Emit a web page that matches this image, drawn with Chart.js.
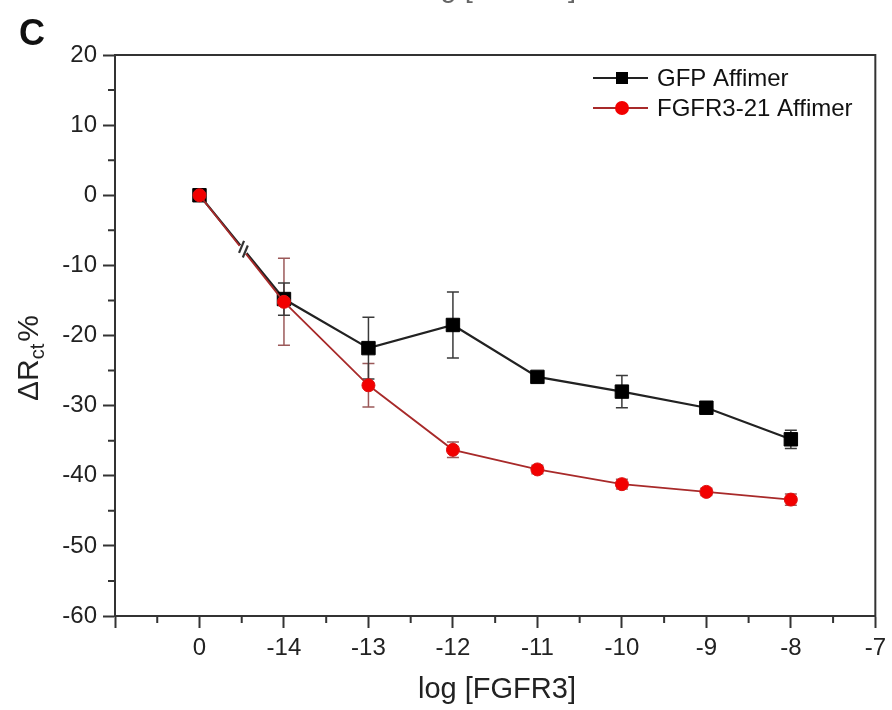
<!DOCTYPE html>
<html><head><meta charset="utf-8">
<script src="https://cdn.jsdelivr.net/npm/chart.js@4.4.0/dist/chart.umd.min.js"></script>
<style>html,body{margin:0;padding:0;background:#fff;}#wrap{width:892px;height:710px;}</style>
</head><body><div id="wrap"><canvas id="c" width="892" height="710"></canvas></div>
<script>
const tickLabels = ['', '0', '-14', '-13', '-12', '-11', '-10', '-9', '-8', '-7'];
const concentrations = ['0', '-14', '-13', '-12', '-11', '-10', '-9', '-8'];
const gfpValues = [0, -14.8, -21.8, -18.5, -25.9, -28.0, -30.3, -34.8];
const gfpErrors = [0, 2.3, 4.4, 4.7, 0.5, 2.3, 0.5, 1.3];
const fgfrValues = [0, -15.2, -27.1, -36.3, -39.1, -41.2, -42.3, -43.4];
const fgfrErrors = [0, 6.2, 3.1, 1.1, 0.6, 0.7, 0.5, 0.8];
const seriesNames = ['GFP Affimer', 'FGFR3-21 Affimer'];
const xTitle = 'log [FGFR3]';
const panelLabel = 'C';

const FONT = "'Liberation Sans', Arial, sans-serif";
const toPoints = (vals) => concentrations.map((c, i) => ({x: tickLabels.indexOf(c), y: vals[i]}));

const extras = {
  id: 'extras',
  beforeDatasetsDraw(chart) {
    const {ctx, scales: {x, y}} = chart;
    const series = [[fgfrValues, fgfrErrors, 'rgba(150,80,80,0.95)'], [gfpValues, gfpErrors, '#3a3a3a']];
    series.forEach(([vals, errs, col]) => {
      ctx.save(); ctx.strokeStyle = col; ctx.lineWidth = 1.5;
      concentrations.forEach((c, i) => {
        if (!errs[i]) return;
        const px = x.getPixelForValue(tickLabels.indexOf(c));
        const yt = y.getPixelForValue(vals[i] + errs[i]);
        const yb = y.getPixelForValue(vals[i] - errs[i]);
        ctx.beginPath();
        ctx.moveTo(px, yt); ctx.lineTo(px, yb);
        ctx.moveTo(px - 6, yt); ctx.lineTo(px + 6, yt);
        ctx.moveTo(px - 6, yb); ctx.lineTo(px + 6, yb);
        ctx.stroke();
      });
      ctx.restore();
    });
  },
  afterDatasetsDraw(chart) {
    const {ctx, scales: {x, y}, chartArea: a} = chart;
    // break mark on first segment
    const x0 = x.getPixelForValue(tickLabels.indexOf(concentrations[0]));
    const y0 = y.getPixelForValue(gfpValues[0]);
    const x1 = x.getPixelForValue(tickLabels.indexOf(concentrations[1]));
    const y1 = y.getPixelForValue(gfpValues[1]);
    const t = 0.52;
    const mx = x0 + (x1 - x0) * t, my = y0 + (y1 - y0) * t;
    const len = Math.hypot(x1 - x0, y1 - y0);
    const ux = (x1 - x0) / len, uy = (y1 - y0) / len;
    ctx.save();
    ctx.strokeStyle = '#fff'; ctx.lineWidth = 6;
    ctx.beginPath(); ctx.moveTo(mx - ux * 5, my - uy * 5); ctx.lineTo(mx + ux * 5, my + uy * 5); ctx.stroke();
    ctx.strokeStyle = '#333'; ctx.lineWidth = 2.2;
    [-3, 3].forEach(o => {
      const cx = mx + ux * o, cy = my + uy * o;
      ctx.beginPath(); ctx.moveTo(cx - 2.5, cy + 6); ctx.lineTo(cx + 2.5, cy - 6); ctx.stroke();
    });
    ctx.restore();
    // frame
    ctx.save();
    ctx.strokeStyle = '#333'; ctx.lineWidth = 2;
    ctx.strokeRect(a.left, a.top, a.right - a.left, a.bottom - a.top);
    // minor ticks
    ctx.beginPath();
    for (let v = y.min + 5; v < y.max; v += 10) {
      const py = y.getPixelForValue(v);
      ctx.moveTo(a.left - 7, py); ctx.lineTo(a.left, py);
    }
    for (let v = x.min + 0.5; v < x.max; v += 1) {
      const px = x.getPixelForValue(v);
      ctx.moveTo(px, a.bottom); ctx.lineTo(px, a.bottom + 7);
    }
    ctx.stroke();
    ctx.restore();
  },
  afterDraw(chart) {
    const {ctx} = chart;
    ctx.save();
    // legend (in series-name order)
    const rows = [78, 108];
    seriesNames.forEach((name, i) => {
      const d = chart.data.datasets.find(s => s.label === name);
      const yy = rows[i];
      ctx.strokeStyle = d.borderColor; ctx.lineWidth = d.borderWidth;
      ctx.beginPath(); ctx.moveTo(593, yy); ctx.lineTo(648, yy); ctx.stroke();
      ctx.fillStyle = d.pointBackgroundColor;
      if (d.pointStyle === 'rect') {
        ctx.fillRect(622 - 6, yy - 6, 12, 12);
      } else {
        ctx.beginPath(); ctx.arc(622, yy, 7, 0, Math.PI * 2); ctx.fill();
      }
      ctx.fillStyle = '#111'; ctx.font = '24px ' + FONT; ctx.textBaseline = 'middle'; ctx.textAlign = 'left';
      ctx.fillText(d.label, 657, yy + 1);
    });
    // x title
    ctx.fillStyle = '#222'; ctx.font = '29px ' + FONT; ctx.textAlign = 'center'; ctx.textBaseline = 'alphabetic';
    ctx.fillText(xTitle, 497, 698);
    // clipped title at top
    ctx.fillStyle = '#666';
    ctx.fillText(xTitle, 497, -3);
    // y title
    ctx.save();
    ctx.translate(38, 358); ctx.rotate(-Math.PI / 2);
    ctx.fillStyle = '#222'; ctx.textAlign = 'left';
    ctx.font = '30px ' + FONT;
    const w1 = ctx.measureText('\u0394R').width;
    ctx.font = '20px ' + FONT;
    const w2 = ctx.measureText('ct').width;
    ctx.font = '30px ' + FONT;
    const w3 = ctx.measureText('%').width;
    const total = w1 + w2 + 2 + w3;
    let sx = -total / 2;
    ctx.fillText('\u0394R', sx, 0); sx += w1;
    ctx.font = '20px ' + FONT; ctx.fillText('ct', sx, 6); sx += w2 + 2;
    ctx.font = '30px ' + FONT; ctx.fillText('%', sx, 0);
    ctx.restore();
    // panel label
    ctx.fillStyle = '#111'; ctx.font = 'bold 36px ' + FONT; ctx.textAlign = 'left';
    ctx.fillText(panelLabel, 19, 45);
    ctx.restore();
  }
};

new Chart(document.getElementById('c'), {
  type: 'line',
  data: {
    datasets: [
      {label: seriesNames[1], data: toPoints(fgfrValues), borderColor: '#a82a2a', borderWidth: 1.8,
       pointStyle: 'circle', pointRadius: 6.5, pointBackgroundColor: '#f20000', pointBorderColor: '#e01010', pointBorderWidth: 1, order: 0},
      {label: seriesNames[0], data: toPoints(gfpValues), borderColor: '#222', borderWidth: 2.2,
       pointStyle: 'rect', pointRadius: 9.5, pointBackgroundColor: '#000', pointBorderColor: '#000', pointBorderWidth: 1, order: 1}
    ]
  },
  options: {
    responsive: false, animation: false, devicePixelRatio: 1,
    layout: {padding: {top: 55, right: 15, left: 0, bottom: 0}},
    plugins: {legend: {display: false}, tooltip: {enabled: false}},
    scales: {
      x: {
        type: 'linear', min: 0, max: 9,
        afterFit: s => { s.height = 94; },
        ticks: {stepSize: 1, autoSkip: false, maxRotation: 0, padding: 6, color: '#222',
                font: {size: 24, family: FONT}, callback: v => tickLabels[v] ?? ''},
        grid: {drawOnChartArea: false, tickLength: 12, tickColor: '#333', tickWidth: 2},
        border: {color: '#333', width: 2}
      },
      y: {
        min: -60, max: 20,
        afterFit: s => { s.width = 115; },
        ticks: {stepSize: 10, padding: 6, color: '#222', font: {size: 24, family: FONT}},
        grid: {drawOnChartArea: false, tickLength: 12, tickColor: '#333', tickWidth: 2},
        border: {color: '#333', width: 2}
      }
    }
  },
  plugins: [extras]
});
</script></body></html>
